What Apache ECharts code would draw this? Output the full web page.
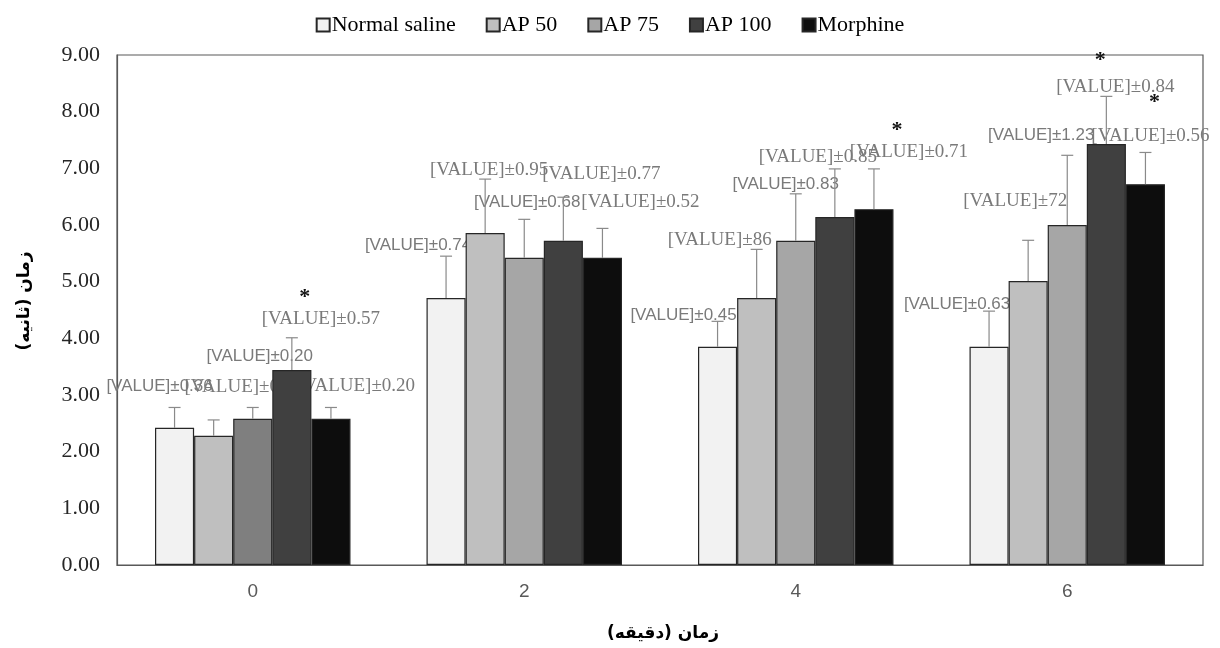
<!DOCTYPE html>
<html>
<head>
<meta charset="utf-8">
<script src="https://cdn.jsdelivr.net/npm/echarts@6/dist/echarts.min.js"></script>
<style>
  html, body { margin: 0; padding: 0; background: #ffffff; }
  #chart { width: 1220px; height: 648px; }
</style>
</head>
<body>
<div id="chart"></div>
<script>
// Time points (minutes) and group names
const categories = ['0', '2', '4', '6'];
const seriesNames = ['Normal saline', 'AP 50', 'AP 75', 'AP 100', 'Morphine'];

// Mean latency (seconds) per group
const normalSaline = [2.42, 4.71, 3.85, 3.85];
const ap50 = [2.28, 5.86, 4.71, 5.01];
const ap75 = [2.58, 5.42, 5.72, 6.00];
const ap100 = [3.44, 5.72, 6.14, 7.43];
const morphine = [2.58, 5.42, 6.28, 6.72];

// Standard deviations
const normalSaline_sd = [0.36, 0.74, 0.45, 0.63];
const ap50_sd = [0.28, 0.95, 0.86, 0.72];
const ap75_sd = [0.20, 0.68, 0.83, 1.23];
const ap100_sd = [0.57, 0.77, 0.85, 0.84];
const morphine_sd = [0.20, 0.52, 0.71, 0.56];

// Data label texts
const normalSalineLabels = ['[VALUE]±0.36', '[VALUE]±0.74', '[VALUE]±0.45', '[VALUE]±0.63'];
const ap50Labels = ['[VALUE]±0.28', '[VALUE]±0.95', '[VALUE]±86', '[VALUE]±72'];
const ap75Labels = ['[VALUE]±0.20', '[VALUE]±0.68', '[VALUE]±0.83', '[VALUE]±1.23'];
const ap100Labels = ['[VALUE]±0.57', '[VALUE]±0.77', '[VALUE]±0.85', '[VALUE]±0.84'];
const morphineLabels = ['[VALUE]±0.20', '[VALUE]±0.52', '[VALUE]±0.71', '[VALUE]±0.56'];

// Significance markers (*)
const normalSalineSig = [false, false, false, false];
const ap50Sig = [false, false, false, false];
const ap75Sig = [false, false, false, false];
const ap100Sig = [true, false, false, true];
const morphineSig = [false, false, true, true];

// Axis titles
const xTitle = 'زمان (دقیقه)';
const yTitle = 'زمان (ثانیه)';

const means = [normalSaline, ap50, ap75, ap100, morphine];
const sds = [normalSaline_sd, ap50_sd, ap75_sd, ap100_sd, morphine_sd];
const labelTexts = [normalSalineLabels, ap50Labels, ap75Labels, ap100Labels, morphineLabels];
const sigs = [normalSalineSig, ap50Sig, ap75Sig, ap100Sig, morphineSig];

// ---- presentation ----
const colors = ['#f2f2f2', '#bfbfbf', '#a6a6a6', '#404040', '#0d0d0d'];
const SERIF = '"Liberation Serif", "Times New Roman", serif';
const SANS = '"Liberation Sans Narrow", "Liberation Sans", Arial, sans-serif';
const ARABIC = '"DejaVu Sans", "Noto Sans", sans-serif';
const labelFonts = ['sans', 'serif', 'sans', 'serif', 'serif'];
// label placement (px) relative to the top of each error bar
const labelOffsets = [
  [[-15, -21], [-28, -11], [-34, -6], [-32, -7]],
  [[30, -33], [4, -9], [-37, -9], [-13, -39]],
  [[7, -51], [3, -17], [-10, -10], [-26, -20]],
  [[29, -19], [38, -23], [-17, -12], [9, -9]],
  [[25, -21], [38, -26], [35, -17], [5, -16]]
];
const starOffsets = [
  [null, null, null, null],
  [null, null, null, null],
  [null, null, null, null],
  [[13, -45], null, null, [-6, -41]],
  [null, null, [23, -44], [9, -55]]
];
const CAT_GAP = 0.28;

function barX(api, c, s, yVal) {
  const p = api.coord([c, yVal]);
  const bw = api.size([1, 0])[0] * (1 - CAT_GAP) / 5;
  return [p[0] + (s - 2) * bw, p[1]];
}

const barSeries = seriesNames.map((name, s) => ({
  name: name,
  type: 'bar',
  z: 2,
  barGap: '0%',
  barCategoryGap: (CAT_GAP * 100) + '%',
  itemStyle: { color: colors[s], borderColor: '#262626', borderWidth: 1.2 },
  emphasis: { disabled: true },
  data: means[s].map((v, c) => (s === 2 && c === 0)
    ? { value: v, itemStyle: { color: '#7f7f7f' } }
    : v)
}));

const errData = [];
const labelData = [];
const starData = [];
for (let s = 0; s < 5; s++) {
  for (let c = 0; c < categories.length; c++) {
    errData.push([c, s, means[s][c], sds[s][c]]);
    labelData.push({ value: [c, s, means[s][c] + sds[s][c]], text: labelTexts[s][c], s: s, c: c });
    if (sigs[s][c]) starData.push({ value: [c, s, means[s][c] + sds[s][c]], s: s, c: c });
  }
}

const errorSeries = {
  type: 'custom',
  z: 4,
  silent: true,
  encode: { x: 0, y: 2 },
  data: errData,
  renderItem: function (params, api) {
    const c = api.value(0), s = api.value(1), v = api.value(2), e = api.value(3);
    const top = barX(api, c, s, v + e);
    const base = barX(api, c, s, v);
    const st = { stroke: '#8a8a8a', lineWidth: 1.2 };
    return {
      type: 'group',
      children: [
        { type: 'line', shape: { x1: top[0], y1: base[1], x2: top[0], y2: top[1] }, style: st },
        { type: 'line', shape: { x1: top[0] - 6, y1: top[1], x2: top[0] + 6, y2: top[1] }, style: st }
      ]
    };
  }
};

const labelSeries = {
  type: 'custom',
  z: 1,
  silent: true,
  encode: { x: 0, y: 2 },
  data: labelData,
  renderItem: function (params, api) {
    const d = labelData[params.dataIndex];
    const p = barX(api, d.c, d.s, api.value(2));
    const off = labelOffsets[d.s][d.c];
    const serif = labelFonts[d.s] === 'serif';
    return {
      type: 'text',
      x: p[0] + off[0],
      y: p[1] + off[1],
      style: {
        text: d.text,
        fill: '#7a7a7a',
        font: serif ? ('19px ' + SERIF) : ('17px ' + SANS),
        align: 'center',
        verticalAlign: 'middle'
      }
    };
  }
};

const starSeries = {
  type: 'custom',
  z: 5,
  silent: true,
  encode: { x: 0, y: 2 },
  data: starData,
  renderItem: function (params, api) {
    const d = starData[params.dataIndex];
    const p = barX(api, d.c, d.s, api.value(2));
    const off = starOffsets[d.s][d.c];
    return {
      type: 'text',
      x: p[0] + off[0],
      y: p[1] + off[1] + 5,
      style: {
        text: '*',
        fill: '#111111',
        font: 'bold 22px ' + SERIF,
        align: 'center',
        verticalAlign: 'middle'
      }
    };
  }
};

const chart = echarts.init(document.getElementById('chart'), null, { renderer: 'canvas' });
chart.setOption({
  animation: false,
  backgroundColor: '#ffffff',
  legend: {
    top: 9,
    left: 'center',
    itemWidth: 13,
    itemHeight: 13,
    itemGap: 30,
    icon: 'rect',
    selectedMode: false,
    textStyle: { fontFamily: SERIF, fontSize: 22, color: '#000000', padding: [0, 0, 0, -3] },
    data: seriesNames
  },
  grid: {
    left: 117, right: 17, top: 55, bottom: 83,
    show: true, borderColor: '#595959', borderWidth: 1.2, backgroundColor: 'transparent'
  },
  xAxis: {
    type: 'category',
    data: categories,
    axisLine: { show: true, lineStyle: { color: '#595959', width: 1.2 } },
    axisTick: { show: false },
    axisLabel: { margin: 17, fontFamily: '"Liberation Sans", Arial, sans-serif', fontSize: 19, color: '#595959' }
  },
  yAxis: {
    type: 'value',
    min: 0, max: 9, interval: 1,
    splitLine: { show: false },
    axisLine: { show: true, lineStyle: { color: '#595959', width: 1.2 } },
    axisTick: { show: false },
    axisLabel: {
      margin: 17, fontFamily: SERIF, fontSize: 22, color: '#262626',
      formatter: v => v.toFixed(2)
    }
  },
  graphic: [
    {
      type: 'text', x: 663, y: 634, silent: true,
      style: { text: xTitle, font: 'bold 17px ' + ARABIC, fill: '#000000', align: 'center', verticalAlign: 'middle' }
    },
    {
      type: 'text', x: 25, y: 301, rotation: Math.PI / 2, silent: true,
      style: { text: yTitle, font: 'bold 17px ' + ARABIC, fill: '#000000', align: 'center', verticalAlign: 'middle' }
    }
  ],
  series: [labelSeries].concat(barSeries, [errorSeries, starSeries])
});
</script>
</body>
</html>
